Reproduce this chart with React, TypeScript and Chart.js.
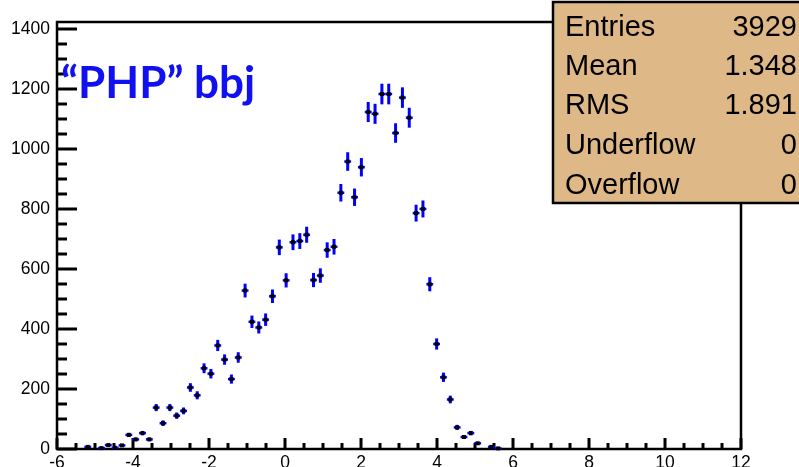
import { useEffect, useRef } from "react";
import { Chart, registerables } from "chart.js";

Chart.register(...registerables);

// Histogram binning: 100 bins between -6 and 12
const binLow = -6;
const binHigh = 12;
const binCount = 100;

// Filled bins (index) and their contents
const filledBins = [
  4, 6, 7, 8, 9, 10, 11, 12, 13, 14, 15, 16, 17, 18, 19, 20, 21, 22, 23, 24,
  25, 26, 27, 28, 29, 30, 31, 32, 33, 34, 35, 36, 37, 38, 39, 40, 41, 42, 43,
  44, 45, 46, 47, 48, 49, 50, 51, 52, 53, 54, 55, 56, 57, 58, 59, 60, 61, 63,
  64,
];
const binContents = [
  7, 3, 13, 4, 12, 47, 32, 53, 32, 138, 86, 138, 111, 127, 205, 179, 269, 251,
  345, 298, 233, 305, 528, 424, 405, 431, 509, 672, 562, 689, 693, 714, 563,
  578, 663, 674, 854, 958, 839, 939, 1123, 1117, 1183, 1183, 1053, 1171, 1104,
  786, 800, 549, 350, 239, 165, 72, 40, 53, 19, 7, 2,
];

const xTickValues = [-6, -4, -2, 0, 2, 4, 6, 8, 10, 12];
const yTickValues = [0, 200, 400, 600, 800, 1000, 1200, 1400];
const yMax = 1423;

const statLabels = ["Entries", "Mean", "RMS", "Underflow", "Overflow"];
const statValues = ["3929", "1.348", "1.891", "0", "0"];

const sampleLabel = "\u201CPHP\u201D bbj";

const binWidth = (binHigh - binLow) / binCount;

export default function App() {
  const canvasRef = useRef<HTMLCanvasElement | null>(null);

  useEffect(() => {
    const canvas = canvasRef.current;
    if (!canvas) return;

    const points = filledBins.map((k, i) => ({
      x: binLow + (k + 0.5) * binWidth,
      y: binContents[i],
    }));

    const axisFont = { family: "'Liberation Sans', Arial, sans-serif", size: 17.5 };

    // ROOT-like frame with inward ticks, error-bar markers and stats box
    const framePlugin = {
      id: "rootFrame",
      beforeDatasetsDraw(chart: any) {
        const { ctx, chartArea } = chart;
        const xs = chart.scales.x;
        const ys = chart.scales.y;
        const { left, right, top, bottom } = chartArea;
        ctx.save();
        ctx.strokeStyle = "#000";
        ctx.lineCap = "butt";

        // x ticks: major every 2, minor every 0.5
        ctx.lineWidth = 3;
        for (let v = binLow; v <= binHigh + 1e-9; v += 0.5) {
          const px = Math.round(xs.getPixelForValue(v));
          const major = Math.abs(v / 2 - Math.round(v / 2)) < 1e-6;
          const len = major ? 11 : 6;
          ctx.beginPath();
          ctx.moveTo(px, bottom);
          ctx.lineTo(px, bottom - len);
          ctx.stroke();
        }
        // y ticks: major every 200, minor every 50
        for (let v = 0; v <= yMax; v += 50) {
          const py = Math.round(ys.getPixelForValue(v));
          const major = v % 200 === 0;
          const len = major ? 20 : 10;
          ctx.beginPath();
          ctx.moveTo(left, py);
          ctx.lineTo(left + len, py);
          ctx.stroke();
        }

        // frame
        ctx.lineWidth = 2.5;
        ctx.beginPath();
        ctx.moveTo(left, top);
        ctx.lineTo(right, top);
        ctx.lineTo(right, bottom);
        ctx.lineTo(left, bottom);
        ctx.closePath();
        ctx.stroke();
        ctx.restore();
      },
      afterDatasetsDraw(chart: any) {
        const { ctx } = chart;
        const xs = chart.scales.x;
        const ys = chart.scales.y;
        ctx.save();
        points.forEach((p) => {
          const err = Math.sqrt(p.y);
          const cx = xs.getPixelForValue(p.x);
          const cy = ys.getPixelForValue(p.y);
          const yLo = ys.getPixelForValue(Math.max(0, p.y - err));
          const yHi = ys.getPixelForValue(p.y + err);
          const xL = xs.getPixelForValue(p.x - binWidth / 2);
          const xR = xs.getPixelForValue(p.x + binWidth / 2);
          ctx.strokeStyle = "#0000ff";
          ctx.lineWidth = 3;
          ctx.beginPath();
          ctx.moveTo(cx, yLo);
          ctx.lineTo(cx, yHi);
          ctx.stroke();
          ctx.lineWidth = 2.5;
          ctx.beginPath();
          ctx.moveTo(xL, cy);
          ctx.lineTo(xR, cy);
          ctx.stroke();
          ctx.fillStyle = "#000";
          ctx.fillRect(cx - 2, cy - 2, 4, 4);
        });
        ctx.restore();
      },
      afterDraw(chart: any) {
        const { ctx } = chart;
        ctx.save();
        // sample label
        ctx.fillStyle = "#1010f0";
        ctx.font = "bold 44px Lato, 'Open Sans', sans-serif";
        ctx.textBaseline = "alphabetic";
        ctx.textAlign = "left";
        ctx.fillText(sampleLabel, 61, 98);

        // statistics box
        const bx = 553;
        const by = 2;
        const bw = 260;
        const bh = 201;
        ctx.fillStyle = "#DEB887";
        ctx.fillRect(bx, by, bw, bh);
        ctx.strokeStyle = "#000";
        ctx.lineWidth = 2.5;
        ctx.strokeRect(bx, by, bw, bh);
        ctx.fillStyle = "#000";
        ctx.font = "29px 'Liberation Sans', Arial, sans-serif";
        const rowBase = [36, 75, 114, 154, 194];
        statLabels.forEach((lab, i) => {
          ctx.textAlign = "left";
          ctx.fillText(lab, 565, rowBase[i]);
          ctx.textAlign = "right";
          ctx.fillText(statValues[i], 797, rowBase[i]);
        });
        ctx.restore();
      },
    };

    const chart = new Chart(canvas, {
      type: "scatter",
      data: {
        datasets: [
          {
            data: points,
            pointRadius: 0,
            showLine: false,
          },
        ],
      },
      options: {
        animation: false,
        responsive: false,
        maintainAspectRatio: false,
        events: [],
        layout: { padding: { top: 22, right: 58, left: 0, bottom: 0 } },
        plugins: {
          legend: { display: false },
          tooltip: { enabled: false },
          title: { display: false },
        },
        scales: {
          x: {
            type: "linear",
            min: binLow,
            max: binHigh,
            grid: { display: false, drawTicks: false },
            border: { display: false },
            ticks: {
              font: axisFont,
              color: "#000",
              padding: 4,
              autoSkip: false,
              maxRotation: 0,
              callback: (v: any) => String(v),
            },
            afterBuildTicks: (s: any) => {
              s.ticks = xTickValues.map((v) => ({ value: v }));
            },
            afterFit: (s: any) => {
              s.height = 18;
            },
          },
          y: {
            type: "linear",
            min: 0,
            max: yMax,
            grid: { display: false, drawTicks: false },
            border: { display: false },
            ticks: {
              font: axisFont,
              color: "#000",
              padding: 7,
              autoSkip: false,
              callback: (v: any) => String(v),
            },
            afterBuildTicks: (s: any) => {
              s.ticks = yTickValues.map((v) => ({ value: v }));
            },
            afterFit: (s: any) => {
              s.width = 57;
            },
          },
        },
      },
      plugins: [framePlugin],
    });

    return () => {
      chart.destroy();
    };
  }, []);

  return (
    <div style={{ position: "fixed", left: 0, top: 0, width: 799, height: 467, background: "#fff" }}>
      <canvas ref={canvasRef} width={799} height={467} style={{ display: "block" }} />
    </div>
  );
}
